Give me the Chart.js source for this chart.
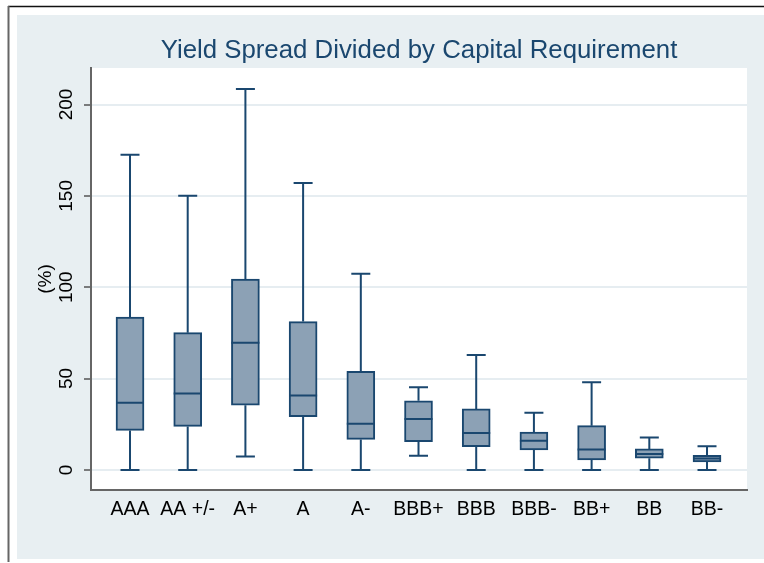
<!DOCTYPE html>
<html>
<head>
<meta charset="utf-8">
<script src="https://cdn.jsdelivr.net/npm/chart.js@4"></script>
<style>
  html, body { margin: 0; padding: 0; background: #ffffff; }
  #wrap { width: 764px; height: 563px; position: relative; }
</style>
</head>
<body>
<div id="wrap"><canvas id="c" width="764" height="563"></canvas></div>
<script>
// ---- data ----
const categories = ['AAA', 'AA +/-', 'A+', 'A', 'A-', 'BBB+', 'BBB', 'BBB-', 'BB+', 'BB', 'BB-'];
const whiskerLow  = [0, 0, 7.3, 0, 0, 7.8, 0, 0, 0, 0, 0];
const quartile1   = [21.6, 23.8, 35.4, 29.1, 16.7, 15.4, 12.7, 10.9, 5.5, 6.4, 4.4];
const medians     = [36.7, 41.8, 69.6, 40.7, 25.3, 27.8, 20.2, 16.0, 11.1, 8.7, 6.2];
const quartile3   = [83.6, 75.1, 104.5, 81.2, 54.0, 37.8, 33.4, 20.7, 24.2, 11.5, 8.0];
const whiskerHigh = [172.5, 150, 208.5, 157, 107.4, 45.3, 62.9, 31.3, 48, 17.8, 12.9];
const yTicks = [0, 50, 100, 150, 200];

const NAVY = '#1a476f';
const BOXFILL = '#8ca1b5';

const boxData = categories.map((c, i) => ({ x: i, y: [quartile1[i], quartile3[i]] }));

const backgroundPlugin = {
  id: 'stataBackground',
  beforeDraw(chart) {
    const ctx = chart.ctx;
    const a = chart.chartArea;
    ctx.save();
    ctx.fillStyle = '#ffffff';
    ctx.fillRect(0, 0, chart.width, chart.height);
    ctx.fillStyle = '#e8eff2';
    ctx.fillRect(17, 15, chart.width - 17, 544);
    ctx.fillStyle = '#ffffff';
    ctx.fillRect(a.left, a.top, a.right - a.left, a.bottom - a.top);
    ctx.strokeStyle = '#111111';
    ctx.lineWidth = 1.5;
    ctx.beginPath(); ctx.moveTo(8, 6.5); ctx.lineTo(chart.width, 6.5); ctx.stroke();
    ctx.strokeStyle = '#666666';
    ctx.lineWidth = 2;
    ctx.beginPath(); ctx.moveTo(8.5, 6); ctx.lineTo(8.5, 562); ctx.stroke();
    ctx.restore();
  }
};

const whiskerPlugin = {
  id: 'boxWhiskers',
  afterDatasetsDraw(chart) {
    const ctx = chart.ctx;
    const xs = chart.scales.x, ys = chart.scales.y;
    const meta = chart.getDatasetMeta(0);
    ctx.save();
    ctx.strokeStyle = NAVY;
    ctx.lineWidth = 2;
    categories.forEach((c, i) => {
      const x = xs.getPixelForValue(i);
      const bar = meta.data[i];
      const half = bar.width / 2;
      const capHalf = 9.5;
      const yHi = ys.getPixelForValue(whiskerHigh[i]);
      const yQ3 = ys.getPixelForValue(quartile3[i]);
      const yQ1 = ys.getPixelForValue(quartile1[i]);
      const yLo = ys.getPixelForValue(whiskerLow[i]);
      const yMed = ys.getPixelForValue(medians[i]);
      ctx.beginPath();
      ctx.moveTo(x, yQ3); ctx.lineTo(x, yHi);
      ctx.moveTo(x - capHalf, yHi); ctx.lineTo(x + capHalf, yHi);
      ctx.moveTo(x, yQ1); ctx.lineTo(x, yLo);
      ctx.moveTo(x - capHalf, yLo); ctx.lineTo(x + capHalf, yLo);
      ctx.moveTo(x - half, yMed); ctx.lineTo(x + half, yMed);
      ctx.stroke();
    });
    ctx.restore();
  }
};

new Chart(document.getElementById('c'), {
  type: 'bar',
  data: {
    datasets: [{
      label: 'Yield spread / capital requirement',
      data: boxData,
      backgroundColor: BOXFILL,
      borderColor: NAVY,
      borderWidth: 2,
      borderSkipped: false,
      barThickness: 28
    }]
  },
  plugins: [backgroundPlugin, whiskerPlugin],
  options: {
    responsive: false,
    animation: false,
    devicePixelRatio: 1,
    layout: { padding: { left: 17, right: 17, top: 15, bottom: 4 } },
    plugins: {
      legend: { display: false },
      tooltip: { enabled: false },
      title: {
        display: true,
        text: 'Yield Spread Divided by Capital Requirement',
        color: NAVY,
        fullSize: false,
        font: { family: 'Liberation Sans, Arial, sans-serif', size: 25.8, weight: 'normal' },
        padding: { top: 20.5, bottom: 1.5 }
      }
    },
    scales: {
      x: {
        type: 'linear',
        offset: false,
        min: -0.676,
        max: 10.693,
        afterBuildTicks(axis) { axis.ticks = categories.map((c, i) => ({ value: i })); },
        afterFit(axis) { axis.height = 69; },
        grid: { display: false, drawTicks: false, offset: false },
        border: { display: true, color: '#666666', width: 2 },
        ticks: {
          color: '#000000',
          font: { family: 'Liberation Sans, Arial, sans-serif', size: 19.5 },
          padding: 8,
          maxRotation: 0,
          minRotation: 0,
          autoSkip: false,
          callback: (v) => categories[v]
        }
      },
      y: {
        type: 'linear',
        min: -11,
        max: 220,
        afterBuildTicks(axis) { axis.ticks = yTicks.map(v => ({ value: v })); },
        afterFit(axis) { axis.width = 74; },
        grid: {
          color: '#e6edf1',
          lineWidth: 2,
          drawTicks: true,
          tickLength: 7,
          tickColor: '#555555',
          tickWidth: 1.5
        },
        border: { display: true, color: '#666666', width: 2 },
        ticks: {
          color: '#000000',
          font: { family: 'Liberation Sans, Arial, sans-serif', size: 19 },
          padding: 1.2,
          minRotation: 90,
          maxRotation: 90,
          crossAlign: 'center',
          autoSkip: false
        },
        title: {
          display: true,
          text: '(%)',
          color: '#000000',
          font: { family: 'Liberation Sans, Arial, sans-serif', size: 19 },
          padding: { top: 17.6, bottom: 0 }
        }
      }
    }
  }
});
</script>
</body>
</html>
